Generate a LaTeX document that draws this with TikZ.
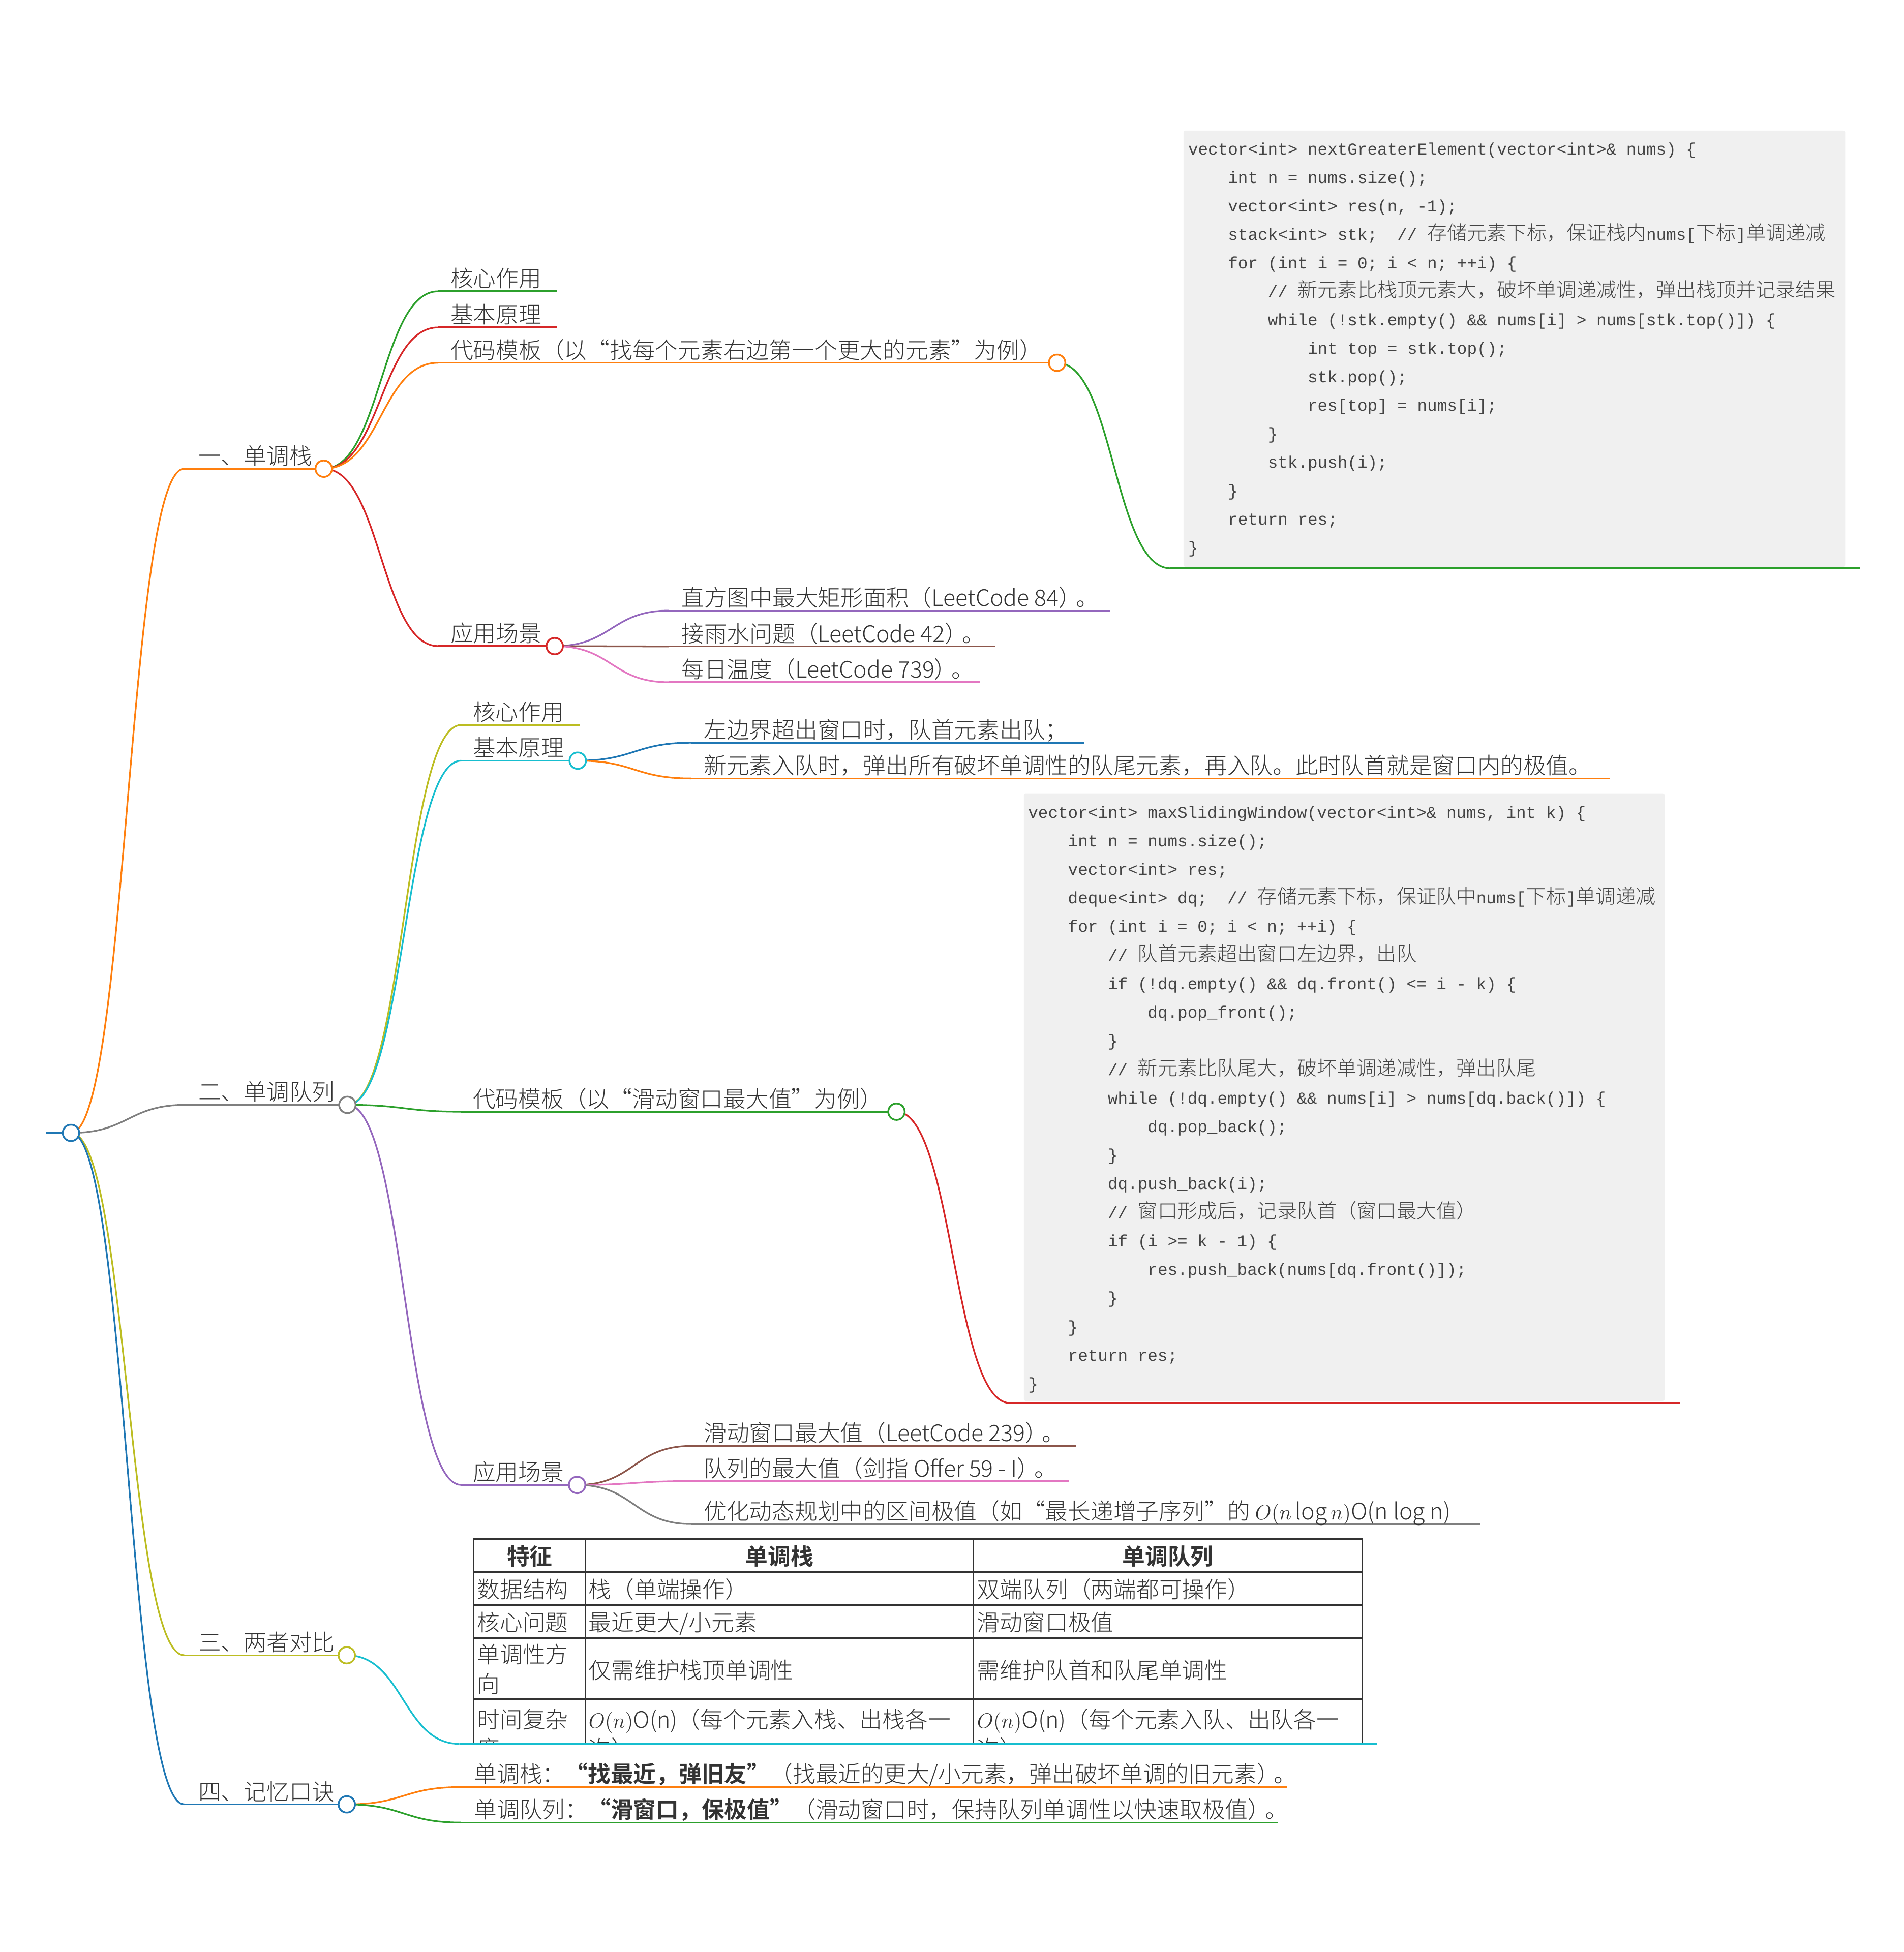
\documentclass[tikz,border=0pt]{standalone}
\usepackage{fontspec}
\setmainfont{Noto Sans CJK SC}[UprightFont={* Light}, BoldFont={* Bold}]
\newfontfamily\codefont{Liberation Mono}
\newfontfamily\cc[Scale=1.2, UprightFont={* Light}]{Noto Sans CJK SC}
\usetikzlibrary{calc}
\definecolor{cBlue}{HTML}{1F77B4}
\definecolor{cOrange}{HTML}{FF7F0E}
\definecolor{cGreen}{HTML}{2CA02C}
\definecolor{cRed}{HTML}{D62728}
\definecolor{cPurple}{HTML}{9467BD}
\definecolor{cBrown}{HTML}{8C564B}
\definecolor{cPink}{HTML}{E377C2}
\definecolor{cGray}{HTML}{7F7F7F}
\definecolor{cOlive}{HTML}{BCBD22}
\definecolor{cCyan}{HTML}{17BECF}
\definecolor{txt}{HTML}{333333}
\definecolor{codetxt}{HTML}{444444}
\definecolor{codebg}{HTML}{F0F0F0}
\newcommand\lblfont{\fontsize{13pt}{15pt}\selectfont}
\newcommand\cdfont{\codefont\fontsize{9.48pt}{12pt}\selectfont}
\begin{document}
\begin{tikzpicture}[x=0.025cm,y=-0.025cm,
  link/.style={line width=0.95pt, to path={let \p1=(\tikztostart), \p2=(\tikztotarget) in .. controls ({(\x1+\x2)/2},\y1) and ({(\x1+\x2)/2},\y2) .. (\tikztotarget)}},
  uline/.style={line width=0.95pt},
  knob/.style={circle, draw, fill=white, line width=1pt, minimum size=0.33cm, inner sep=0pt},
  lbl/.style={anchor=base west, inner sep=0pt, text=txt, font=\lblfont},
  hd/.style={anchor=base, inner sep=0pt, text=txt, font=\lblfont\bfseries},
  code/.style={anchor=base west, inner sep=0pt, text=codetxt, font=\cdfont},
  tbl/.style={draw=txt, line width=0.8pt},
  codebox/.style={fill=codebg, rounded corners=1pt}
]
\useasboundingbox (0,0) rectangle (1529,1568);

% ---------- coordinates ----------
\coordinate (root) at (57,910);     \coordinate (root-s) at (37,910);
\coordinate (A) at (260,376.5);     \coordinate (A-s) at (148,376.5);
\coordinate (A1-s) at (352,234);    \coordinate (A1-e) at (447.5,234);
\coordinate (A2-s) at (352,263);    \coordinate (A2-e) at (447.5,263);
\coordinate (A3) at (849,291.4);    \coordinate (A3-s) at (352,291.4);
\coordinate (A3c-s) at (940,456.5); \coordinate (A3c-e) at (1493.5,456.5);
\coordinate (A4) at (445.5,519);    \coordinate (A4-s) at (352,519);
\coordinate (A41-s) at (537,490.5); \coordinate (A41-e) at (891.5,490.5);
\coordinate (A42-s) at (537,519.3); \coordinate (A42-e) at (799.7,519.3);
\coordinate (A43-s) at (537,548);   \coordinate (A43-e) at (787.4,548);
\coordinate (B) at (279,887.5);     \coordinate (B-s) at (149,887.5);
\coordinate (B1-s) at (370.5,582.3);\coordinate (B1-e) at (466,582.3);
\coordinate (B2) at (464,611);      \coordinate (B2-s) at (370.5,611);
\coordinate (B21-s) at (555,596.6); \coordinate (B21-e) at (871,596.6);
\coordinate (B22-s) at (555,625.3); \coordinate (B22-e) at (1293,625.3);
\coordinate (B3) at (720,893);      \coordinate (B3-s) at (370.5,893);
\coordinate (B3c-s) at (811,1127);  \coordinate (B3c-e) at (1349,1127);
\coordinate (B4) at (463.5,1192.8); \coordinate (B4-s) at (370.5,1192.8);
\coordinate (B41-s) at (555,1161.5);\coordinate (B41-e) at (864,1161.5);
\coordinate (B42-s) at (555,1189.7);\coordinate (B42-e) at (858.5,1189.7);
\coordinate (B43-s) at (555,1224.2);\coordinate (B43-e) at (1189,1224.2);
\coordinate (C) at (278.5,1329.6);  \coordinate (C-s) at (148,1329.6);
\coordinate (C1-s) at (369,1400.8); \coordinate (C1-e) at (1105.7,1400.8);
\coordinate (D) at (278.5,1449.4);  \coordinate (D-s) at (148,1449.4);
\coordinate (D1-s) at (370,1435.5); \coordinate (D1-e) at (1033.6,1435.5);
\coordinate (D2-s) at (370,1464);   \coordinate (D2-e) at (1026,1464);

% ---------- code boxes ----------
\node[codebox, minimum width=531.4*0.025cm, minimum height=350.4*0.025cm, anchor=north west, inner sep=0pt] (box1) at (950.3,104.6) {};
\node[codebox, minimum width=514.7*0.025cm, minimum height=488*0.025cm, anchor=north west, inner sep=0pt] (box2) at (822,637) {};

% ---------- links ----------
\draw[link,cOrange] (root) to (A-s);
\draw[link,cGray]   (root) to (B-s);
\draw[link,cOlive]  (root) to (C-s);
\draw[link,cBlue]   (root) to (D-s);
\draw[link,cGreen]  (A) to (A1-s);
\draw[link,cRed]    (A) to (A2-s);
\draw[link,cOrange] (A) to (A3-s);
\draw[link,cRed]    (A) to (A4-s);
\draw[link,cGreen]  (A3) to (A3c-s);
\draw[link,cPurple] (A4) to (A41-s);
\draw[link,cBrown]  (A4) to (A42-s);
\draw[link,cPink]   (A4) to (A43-s);
\draw[link,cOlive]  (B) to (B1-s);
\draw[link,cCyan]   (B) to (B2-s);
\draw[link,cGreen]  (B) to (B3-s);
\draw[link,cPurple] (B) to (B4-s);
\draw[link,cBlue]   (B2) to (B21-s);
\draw[link,cOrange] (B2) to (B22-s);
\draw[link,cRed]    (B3) to (B3c-s);
\draw[link,cBrown]  (B4) to (B41-s);
\draw[link,cPink]   (B4) to (B42-s);
\draw[link,cGray]   (B4) to (B43-s);
\draw[link,cCyan]   (C) to (C1-s);
\draw[link,cOrange] (D) to (D1-s);
\draw[link,cGreen]  (D) to (D2-s);

% ---------- underlines ----------
\draw[cBlue, line width=1.45pt] (root-s) -- (root);
\draw[uline,cOrange] (A-s) -- (A);
\draw[uline,cGreen]  (A1-s) -- (A1-e);
\draw[uline,cRed]    (A2-s) -- (A2-e);
\draw[uline,cOrange] (A3-s) -- (A3);
\draw[uline,cGreen]  (A3c-s) -- (A3c-e);
\draw[uline,cRed]    (A4-s) -- (A4);
\draw[uline,cPurple] (A41-s) -- (A41-e);
\draw[uline,cBrown]  (A42-s) -- (A42-e);
\draw[uline,cPink]   (A43-s) -- (A43-e);
\draw[uline,cGray]   (B-s) -- (B);
\draw[uline,cOlive]  (B1-s) -- (B1-e);
\draw[uline,cCyan]   (B2-s) -- (B2);
\draw[uline,cBlue]   (B21-s) -- (B21-e);
\draw[uline,cOrange] (B22-s) -- (B22-e);
\draw[uline,cGreen]  (B3-s) -- (B3);
\draw[uline,cRed]    (B3c-s) -- (B3c-e);
\draw[uline,cPurple] (B4-s) -- (B4);
\draw[uline,cBrown]  (B41-s) -- (B41-e);
\draw[uline,cPink]   (B42-s) -- (B42-e);
\draw[uline,cGray]   (B43-s) -- (B43-e);
\draw[uline,cOlive]  (C-s) -- (C);
\draw[uline,cBlue]   (D-s) -- (D);
\draw[uline,cOrange] (D1-s) -- (D1-e);
\draw[uline,cGreen]  (D2-s) -- (D2-e);

% ---------- knobs ----------
\node[knob,draw=cBlue]   (root-k) at (root) {};
\node[knob,draw=cOrange] (A-k) at (A) {};
\node[knob,draw=cOrange] (A3-k) at (A3) {};
\node[knob,draw=cRed]    (A4-k) at (A4) {};
\node[knob,draw=cGray]   (B-k) at (B) {};
\node[knob,draw=cCyan]   (B2-k) at (B2) {};
\node[knob,draw=cGreen]  (B3-k) at (B3) {};
\node[knob,draw=cPurple] (B4-k) at (B4) {};
\node[knob,draw=cOlive]  (C-k) at (C) {};
\node[knob,draw=cBlue]   (D-k) at (D) {};

% ---------- labels ----------
\node[lbl] (A-t) at (159,373) {一、单调栈};
\node[lbl] (A1-t) at (361.5,230.5) {核心作用};
\node[lbl] (A2-t) at (361.5,259.5) {基本原理};
\node[lbl] (A3-t) at (361.5,287.9) {代码模板（以“找每个元素右边第一个更大的元素”为例）};
\node[lbl] (A4-t) at (361.5,515.5) {应用场景};
\node[lbl] (A41-t) at (547,487) {直方图中最大矩形面积（LeetCode 84）\kern-0.25em。};
\node[lbl] (A42-t) at (547,515.8) {接雨水问题（LeetCode 42）\kern-0.25em。};
\node[lbl] (A43-t) at (547,544.5) {每日温度（LeetCode 739）\kern-0.25em。};
\node[lbl] (B-t) at (159,884) {二、单调队列};
\node[lbl] (B1-t) at (379.5,578.8) {核心作用};
\node[lbl] (B2-t) at (379.5,607.5) {基本原理};
\node[lbl] (B21-t) at (565,593.1) {左边界超出窗口时，队首元素出队；};
\node[lbl] (B22-t) at (565,621.8) {新元素入队时，弹出所有破坏单调性的队尾元素，再入队。此时队首就是窗口内的极值。};
\node[lbl] (B3-t) at (379.5,889.5) {代码模板（以“滑动窗口最大值”为例）};
\node[lbl] (B4-t) at (379.5,1189.3) {应用场景};
\node[lbl] (B41-t) at (565,1158) {滑动窗口最大值（LeetCode 239）\kern-0.25em。};
\node[lbl] (B42-t) at (565,1186.2) {队列的最大值（剑指 Offer 59 - I）\kern-0.25em。};
\node[lbl] (B43-t) at (565,1220.7) {优化动态规划中的区间极值（如“最长递增子序列”的 $O(n\log n)$O(n log n)};
\node[lbl] (C-t) at (159,1326.1) {三、两者对比};
\node[lbl] (D-t) at (159,1445.9) {四、记忆口诀};
\node[lbl] (D1-t) at (380.5,1432) {单调栈：{\bfseries “找最近，弹旧友”}（找最近的更大/小元素，弹出破坏单调的旧元素）\kern-0.25em。};
\node[lbl] (D2-t) at (380.5,1460.5) {单调队列：{\bfseries “滑窗口，保极值”}（滑动窗口时，保持队列单调性以快速取极值）\kern-0.25em。};

% ---------- code 1 ----------
\node[code] (k1-0) at (954,124.5) {vector<int> nextGreaterElement(vector<int>\& nums) \{};
\node[code] (k1-1) at (986,147.36) {int n = nums.size();};
\node[code] (k1-2) at (986,170.22) {vector<int> res(n, -1);};
\node[code] (k1-3) at (986,193.08) {stack<int> stk;\ \ // {\cc 存储元素下标，保证栈内}nums[{\cc 下标}]{\cc 单调递减}};
\node[code] (k1-4) at (986,215.94) {for (int i = 0; i < n; ++i) \{};
\node[code] (k1-5) at (1018,238.8) {// {\cc 新元素比栈顶元素大，破坏单调递减性，弹出栈顶并记录结果}};
\node[code] (k1-6) at (1018,261.66) {while (!stk.empty() \&\& nums[i] > nums[stk.top()]) \{};
\node[code] (k1-7) at (1050,284.52) {int top = stk.top();};
\node[code] (k1-8) at (1050,307.38) {stk.pop();};
\node[code] (k1-9) at (1050,330.24) {res[top] = nums[i];};
\node[code] (k1-10) at (1018,353.1) {\}};
\node[code] (k1-11) at (1018,375.96) {stk.push(i);};
\node[code] (k1-12) at (986,398.82) {\}};
\node[code] (k1-13) at (986,421.68) {return res;};
\node[code] (k1-14) at (954,444.54) {\}};

% ---------- code 2 ----------
\node[code] (k2-0) at (825.5,657) {vector<int> maxSlidingWindow(vector<int>\& nums, int k) \{};
\node[code] (k2-1) at (857.5,679.96) {int n = nums.size();};
\node[code] (k2-2) at (857.5,702.92) {vector<int> res;};
\node[code] (k2-3) at (857.5,725.88) {deque<int> dq;\ \ // {\cc 存储元素下标，保证队中}nums[{\cc 下标}]{\cc 单调递减}};
\node[code] (k2-4) at (857.5,748.84) {for (int i = 0; i < n; ++i) \{};
\node[code] (k2-5) at (889.5,771.8) {// {\cc 队首元素超出窗口左边界，出队}};
\node[code] (k2-6) at (889.5,794.76) {if (!dq.empty() \&\& dq.front() <= i - k) \{};
\node[code] (k2-7) at (921.5,817.72) {dq.pop\_front();};
\node[code] (k2-8) at (889.5,840.68) {\}};
\node[code] (k2-9) at (889.5,863.64) {// {\cc 新元素比队尾大，破坏单调递减性，弹出队尾}};
\node[code] (k2-10) at (889.5,886.6) {while (!dq.empty() \&\& nums[i] > nums[dq.back()]) \{};
\node[code] (k2-11) at (921.5,909.56) {dq.pop\_back();};
\node[code] (k2-12) at (889.5,932.52) {\}};
\node[code] (k2-13) at (889.5,955.48) {dq.push\_back(i);};
\node[code] (k2-14) at (889.5,978.44) {// {\cc 窗口形成后，记录队首（窗口最大值）}};
\node[code] (k2-15) at (889.5,1001.4) {if (i >= k - 1) \{};
\node[code] (k2-16) at (921.5,1024.36) {res.push\_back(nums[dq.front()]);};
\node[code] (k2-17) at (889.5,1047.32) {\}};
\node[code] (k2-18) at (857.5,1070.28) {\}};
\node[code] (k2-19) at (857.5,1093.24) {return res;};
\node[code] (k2-20) at (825.5,1116.2) {\}};

% ---------- table ----------
\begin{scope}
\clip (370,1230) rectangle (1110,1400);
\draw[tbl] (380.6,1236.3) rectangle (1094.1,1420);
\foreach \yy in {1262.6,1289.2,1315.7,1364.7} \draw[tbl] (380.6,\yy) -- (1094.1,\yy);
\foreach \xx in {470.2,781.9} \draw[tbl] (\xx,1236.3) -- (\xx,1420);
\node[hd] (h1) at (425.4,1257) {特征};
\node[hd] (h2) at (626,1257) {单调栈};
\node[hd] (h3) at (938,1257) {单调队列};
\node[lbl] (r1a) at (383,1283.7) {数据结构};
\node[lbl] (r1b) at (472.5,1283.7) {栈（单端操作）};
\node[lbl] (r1c) at (784.5,1283.7) {双端队列（两端都可操作）};
\node[lbl] (r2a) at (383,1310) {核心问题};
\node[lbl] (r2b) at (472.5,1310) {最近更大/小元素};
\node[lbl] (r2c) at (784.5,1310) {滑动窗口极值};
\node[lbl] (r3a) at (383,1336) {单调性方};
\node[lbl] (r3a2) at (383,1359.5) {向};
\node[lbl] (r3b) at (472.5,1348.5) {仅需维护栈顶单调性};
\node[lbl] (r3c) at (784.5,1348.5) {需维护队首和队尾单调性};
\node[lbl] (r4a) at (383,1388) {时间复杂};
\node[lbl] (r4a2) at (383,1411.5) {度};
\node[lbl] (r4b) at (472.5,1388) {$O(n)$O(n)（每个元素入栈、出栈各一};
\node[lbl] (r4b2) at (472.5,1411.5) {次）};
\node[lbl] (r4c) at (784.5,1388) {$O(n)$O(n)（每个元素入队、出队各一};
\node[lbl] (r4c2) at (784.5,1411.5) {次）};
\end{scope}
\draw[uline,cCyan] (C1-s) -- (C1-e);
\end{tikzpicture}
\end{document}
